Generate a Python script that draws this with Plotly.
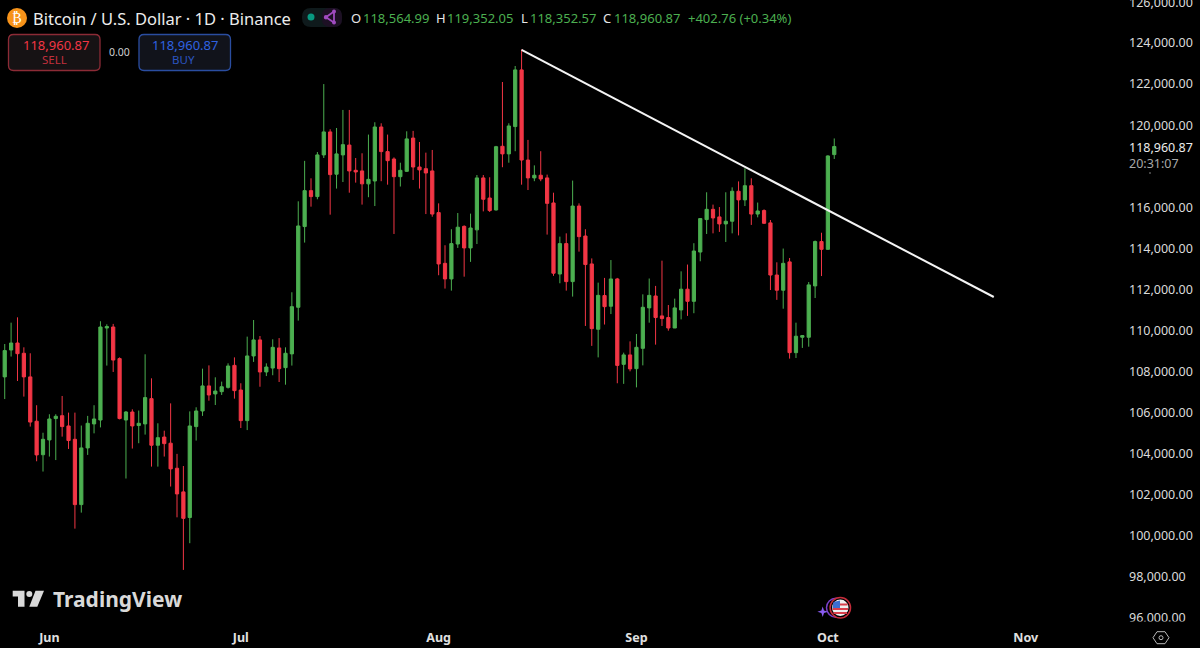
import pandas as pd
import plotly.graph_objects as go

dates = pd.date_range("2025-05-25", "2025-10-02", freq="D")

opens = [107740,109050,109390,108890,107740,105580,103950,104670,105710,105850,
105350,104700,101520,104280,105450,105640,110120,110170,108630,105640,
106030,105370,105450,106680,104410,104810,104510,103290,102140,100890,
105320,106080,107300,106910,107020,107230,108300,107100,105610,108760,
109540,107980,108170,109150,108190,108860,111130,115060,116810,116520,
118550,119670,117610,118550,119030,117800,117770,117140,117280,119910,
118710,118350,117490,117750,119370,117960,117880,117770,115740,113270,
112510,114210,115070,114020,114900,117430,116450,115870,118970,118600,
119930,122690,118300,117430,117560,117430,116210,112750,114230,112380,
116060,114600,113240,110060,111700,111180,112510,108350,108810,108140,
109130,111100,111680,110710,110630,110120,111000,112010,111420,113820,
115400,115900,115530,115190,115320,116780,116360,117050,115670,115840,
115240,112700,111960,113340,108920,109670,109670,112170,114330,113950,
118564.99]
highs = [109340,110380,110640,109180,108890,106360,105020,105920,105920,106810,
106000,106000,105370,105840,106360,110450,110300,110320,108690,106080,
106160,106100,108840,107670,105480,105120,106450,103990,103400,106060,
106260,108140,108300,107720,107510,108400,108690,107430,109700,110510,
109730,108400,109570,109630,109180,111860,116290,118260,117410,118690,
122000,119800,119860,120740,120740,118400,118630,119540,120140,120090,
119540,118430,118170,119700,119720,119180,118660,118790,116190,114150,
114930,115720,115120,115690,117570,117570,117460,118990,122100,120090,
122880,123690,119280,118040,118730,117590,116710,114570,114730,117300,
116190,114930,113510,112330,112560,113430,112560,108920,109470,109830,
111760,112530,112170,113400,111240,111550,112880,113210,114250,115460,
116730,116130,116010,116730,116970,117260,117900,117410,116230,115900,
115380,113320,113990,113530,110380,109780,112360,114380,114760,118530,
119352.05]
lows = [106660,108730,107540,106780,105320,103630,103130,103860,103690,104830,
104230,100350,101130,103940,104990,105280,108290,107980,105670,102790,
104250,104510,104930,103370,103370,103860,102400,100900,98340,99640,
104640,105840,106580,106370,106860,107170,106680,105250,105150,108470,
107260,107780,107820,107490,107360,108290,110480,114280,116030,116390,
118400,115640,116910,117230,116710,117200,116130,116490,116060,117270,
117100,114700,117010,117720,117330,116910,115670,115540,112690,112040,
111940,114020,112620,113340,114210,115800,115770,115840,117950,118170,
118730,117100,116840,117270,117270,114670,112660,112300,111940,111650,
113840,110220,109250,108690,110290,110800,107430,107400,108010,107230,
108300,110380,109310,110220,109990,110120,110540,110710,110840,113370,
114700,114730,114800,114310,114730,114630,116060,115140,115510,115190,
111970,111490,111060,108630,108660,109150,109210,111580,112650,113950,
118352.57]
closes = [109020,109390,108870,107740,105540,103940,104700,105690,105820,105320,
104640,101520,104280,105480,105690,110170,110190,108560,105710,106030,
105350,105480,106730,104410,104780,104490,103260,102040,100850,105350,
106080,107300,106860,107050,107260,108270,107070,105610,108760,109540,
107980,108220,109180,108140,108890,111160,115090,116810,116520,118550,
119670,117590,118600,119050,117770,117720,117140,117360,119910,118710,
118270,117490,117800,119330,117960,117820,117670,115670,113240,112510,
114230,115030,114020,114990,117430,116390,115840,118950,118600,119960,
122690,118300,117430,117560,117380,116190,112790,114230,112380,116060,
114570,113210,110090,111710,111160,112510,108300,108810,108130,109180,
111130,111710,110630,110580,110120,111100,112010,111420,113870,115450,
115900,115480,115190,115320,116780,116360,117050,115670,115820,115220,
112700,111960,113270,108920,109720,109750,112220,114330,113950,118500,
118960.87]

trend_dates = ["2025-08-14", "2025-10-27"]
trend_prices = [123660, 111630]

y_ticks = [124000,122000,120000,116000,114000,112000,110000,108000,
           106000,104000,102000,100000,98000,96000]
x_tick_dates = ["2025-06-01","2025-07-01","2025-08-01","2025-09-01","2025-10-01","2025-11-01"]
x_tick_labels = ["<b>Jun</b>","<b>Jul</b>","<b>Aug</b>","<b>Sep</b>","<b>Oct</b>","<b>Nov</b>"]

W, H = 1200, 648
FONT = "Noto Sans"
GREEN, RED = "#4caf50", "#f23645"

def px(x): return x / W
def py(y): return 1 - y / H

def path(points, close=True):
    s = "M" + " L".join(f"{px(a):.5f},{py(b):.5f}" for a, b in points)
    return s + (" Z" if close else "")

def round_rect(x0, y0, x1, y1, r):
    c = lambda a, b: f"{px(a):.5f},{py(b):.5f}"
    return (f"M{c(x0+r,y0)} L{c(x1-r,y0)} Q{c(x1,y0)} {c(x1,y0+r)} L{c(x1,y1-r)} Q{c(x1,y1)} {c(x1-r,y1)} "
            f"L{c(x0+r,y1)} Q{c(x0,y1)} {c(x0,y1-r)} L{c(x0,y0+r)} Q{c(x0,y0)} {c(x0+r,y0)} Z")

def shape_path(d, fill="rgba(0,0,0,0)", line=None, width=1):
    return dict(type="path", xref="paper", yref="paper", path=d, fillcolor=fill, layer="above",
                line=dict(color=line or "rgba(0,0,0,0)", width=width))

def circle(cx, cy, r, fill="rgba(0,0,0,0)", line=None, width=1):
    return dict(type="circle", xref="paper", yref="paper", x0=px(cx-r), x1=px(cx+r), y0=py(cy+r), y1=py(cy-r),
                fillcolor=fill, layer="above", line=dict(color=line or "rgba(0,0,0,0)", width=width))

def label(x, y, text, color="#dbdbdb", size=13, anchor="left", family=FONT):
    return dict(xref="paper", yref="paper", x=px(x), y=py(y), text=text, showarrow=False, xanchor=anchor,
                yanchor="middle", font=dict(family=family, size=size, color=color), borderpad=0, borderwidth=0)

fig = go.Figure()
fig.add_trace(go.Candlestick(
    x=dates, open=opens, high=highs, low=lows, close=closes,
    increasing=dict(line=dict(color=GREEN, width=1), fillcolor=GREEN),
    decreasing=dict(line=dict(color=RED, width=1), fillcolor=RED),
    whiskerwidth=0, showlegend=False))
fig.add_trace(go.Scatter(x=trend_dates, y=trend_prices, mode="lines",
                         line=dict(color="#f4f4f4", width=2), showlegend=False))

shapes = [
    # clip of the lowest price label
    dict(type="rect", xref="paper", yref="paper", x0=px(1108), x1=1, y0=py(630), y1=py(621.5),
         fillcolor="#000", line=dict(width=0), layer="above"),
    circle(1150, 173, 0.8, fill="#9a9a9a"),
    circle(17, 18, 10, fill="#f7931a"),
    shape_path(round_rect(302, 8, 342, 27, 9), fill="#0f1a1c"),
    shape_path(round_rect(322, 8, 342, 27, 8), fill="#1d1024"),
    circle(311, 17, 3.5, fill="#089981"),
    circle(334, 11.5, 2, fill="#a04bc0"), circle(326, 17.3, 2.2, fill="#a04bc0"), circle(334, 22.5, 2, fill="#a04bc0"),
    shape_path(path([(334, 11.5), (326, 17.3), (334, 22.5)]), line="#a04bc0", width=1.8),
    shape_path(round_rect(8.5, 34.5, 100, 70.5, 5), fill="#161214", line="#8c2b36", width=1.3),
    shape_path(round_rect(139, 34.5, 230.5, 70.5, 5), fill="#11131b", line="#2a4da0", width=1.3),
    # TradingView mark
    shape_path(path([(12.7, 590.7), (24.5, 590.7), (24.5, 606.7), (18, 606.7), (18, 596.5), (12.7, 596.5)]), fill="#d9d9d9"),
    circle(29.3, 594, 3, fill="#d9d9d9"),
    shape_path(path([(35.5, 590.7), (44, 590.7), (37.3, 606.7), (29.3, 606.7)]), fill="#d9d9d9"),
    # event badge
    circle(836, 607.7, 9.5, line="#7a3fc8", width=1.5),
    shape_path(path([(822.7, 606.5), (824, 610.4), (828, 611.7), (824, 613), (822.7, 617), (821.4, 613),
                     (817.4, 611.7), (821.4, 610.4)]), fill="#8a5cf0"),
    circle(840.3, 607.7, 10.2, fill="#000", line="#c62c3a", width=1.5),
    circle(840.3, 607.7, 8.2, fill="#f0f0f0"),
    shape_path(path([(833, 603.5), (847.6, 603.5), (847.6, 605.5), (833, 605.5)]), fill="#d9404c"),
    shape_path(path([(832.6, 608), (848, 608), (848, 610), (832.6, 610)]), fill="#d9404c"),
    shape_path(path([(833.5, 612), (847, 612), (847, 614), (833.5, 614)]), fill="#d9404c"),
    shape_path(path([(833.5, 602), (840, 600.5), (840, 608), (832.6, 608)]), fill="#3c6fd0"),
    # settings hexagon
    shape_path(path([(1153, 637.7), (1157, 631.7), (1165, 631.7), (1169, 637.7), (1165, 643.7), (1157, 643.7)]),
               line="#b8b8b8", width=1),
    circle(1161, 637.7, 2, line="#b8b8b8", width=1),
]

annotations = [
    label(17, 18, "₿", color="#ffffff", size=14, anchor="center", family="DejaVu Sans"),
    label(33, 18, "Bitcoin / U.S. Dollar · 1D · Binance", color="#ececec", size=16.5),
    label(351, 18, "O", color="#e6e6e6"),
    label(362.5, 18, "118,564.99", color=GREEN),
    label(436, 18, "H", color="#e6e6e6"),
    label(446.5, 18, "119,352.05", color=GREEN),
    label(521, 18, "L", color="#e6e6e6"),
    label(530, 18, "118,352.57", color=GREEN),
    label(603, 18, "C", color="#e6e6e6"),
    label(613.5, 18, "118,960.87", color=GREEN),
    label(688, 18, "+402.76 (+0.34%)", color=GREEN),
    label(55.5, 45, "118,960.87", color=RED, anchor="center"),
    label(54.5, 60, "SELL", color="#c2303d", size=11.5, anchor="center"),
    label(119.7, 52, "0.00", color="#cfcfcf", size=10.5, anchor="center"),
    label(184.5, 45, "118,960.87", color="#2f62e0", anchor="center"),
    label(183.5, 60, "BUY", color="#2b55c0", size=11.5, anchor="center"),
    label(52.5, 598.5, "<b>TradingView</b>", color="#d9d9d9", size=21),
    label(1129, 2.3, "126,000.00", color="#dbdbdb", size=12.5),
    label(1129, 147, "118,960.87", color="#ececec", size=12.5),
    label(1129, 163, "20:31:07", color="#a8a8a8", size=12.5),
]

fig.update_layout(
    width=W, height=H, margin=dict(l=0, r=0, t=0, b=0), autosize=False,
    paper_bgcolor="#000000", plot_bgcolor="#000000", boxgap=0.28, showlegend=False,
    shapes=shapes, annotations=annotations,
    xaxis=dict(domain=[0, 1108 / W], range=["2025-05-24 06:14", "2025-11-13 21:36"], rangeslider=dict(visible=False),
               showgrid=False, zeroline=False, showline=False, ticks="",
               tickmode="array", tickvals=x_tick_dates, ticktext=x_tick_labels, ticklabelstandoff=3,
               tickfont=dict(family=FONT, size=12.5, color="#e0e0e0"), automargin=False),
    yaxis=dict(domain=[1 - 625 / H, 1], range=[95657, 126094], side="right", showgrid=False, zeroline=False,
               showline=False, ticks="", tickmode="array", tickvals=y_ticks,
               ticktext=[f"{v:,.2f}" for v in y_ticks], ticklabelstandoff=20,
               tickfont=dict(family=FONT, size=12.5, color="#dbdbdb"), automargin=False),
)

fig.write_html("out.html", config=dict(displayModeBar=False),
               post_script="document.body.style.margin='0';document.body.style.background='#000';")
